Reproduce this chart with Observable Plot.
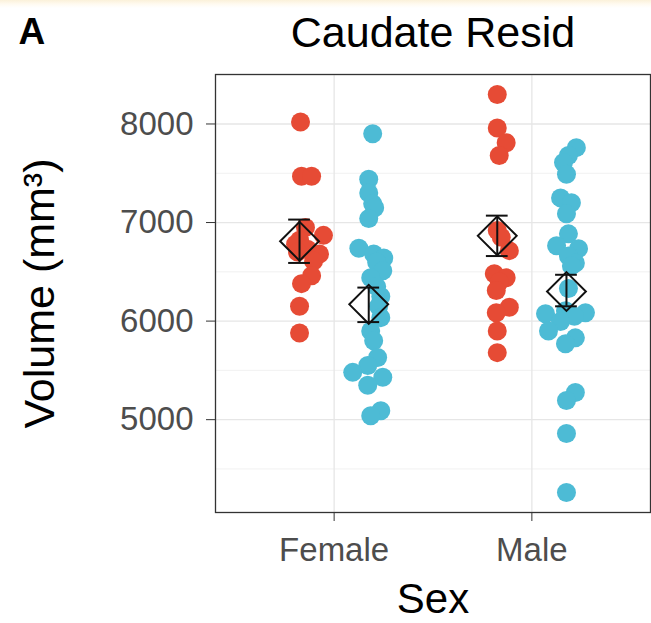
<!DOCTYPE html>
<html>
<head>
<meta charset="utf-8">
<script src="https://cdn.jsdelivr.net/npm/d3@7"></script>
<script src="https://cdn.jsdelivr.net/npm/@observablehq/plot@0.6"></script>
<style>
  html, body { margin: 0; padding: 0; background: #ffffff; }
  #wrap { position: relative; width: 651px; height: 623px; overflow: hidden;
          background: linear-gradient(#fbf1da 0px, #fffaf0 4px, #ffffff 8px); }
  #wrap svg { display: block; }
</style>
</head>
<body>
<div id="wrap"></div>
<script>
// ---- data ----
const sexes = ["Female", "Male"];
const groupNames = ["Group 1", "Group 2"];           // red, blue
const groupColors = ["#E64B35", "#4DBBD5"];

const femaleRed = [8020, 7470, 7470, 6950, 6870, 6820, 6780, 6730, 6700, 6680, 6610, 6460, 6380, 6150, 5880];
const femaleRedJitter = [0.005, 0.010, 0.061, 0.030, 0.121, 0, -0.020, 0.040, -0.010, 0.101, 0.071, 0.061, 0.010, 0, 0];

const femaleBlue = [7900, 7440, 7300, 7190, 7150, 7040, 6740, 6680, 6640, 6600, 6510, 6440, 6350, 6250, 6150, 6035, 5900, 5800, 5630, 5550, 5480, 5430, 5350, 5090, 5040];
const femaleBlueJitter = [0.020, 0, 0, 0.020, 0.030, 0, -0.050, 0.025, 0.076, 0.040, 0.071, 0.010, 0.040, 0.061, 0.050, 0.061, 0.010, 0.025, 0.045, -0.005, -0.081, 0.071, -0.005, 0.061, 0.010];

const maleRed = [8300, 7960, 7810, 7680, 6920, 6850, 6715, 6480, 6440, 6400, 6310, 6140, 6085, 5900, 5680];
const maleRedJitter = [0, 0, 0.045, 0.010, 0, 0.020, 0.061, -0.015, 0.045, 0.010, -0.005, 0.061, -0.005, 0, 0];

const maleBlue = [7760, 7680, 7610, 7490, 7250, 7200, 7090, 6885, 6765, 6735, 6660, 6590, 6560, 6330, 6105, 6085, 6075, 6050, 5995, 5900, 5830, 5770, 5275, 5195, 4860, 4260];
const maleBlueJitter = [0.050, 0.010, -0.015, 0, -0.030, 0.025, 0, 0.010, -0.050, 0.061, 0.010, 0.045, 0.025, 0.010, -0.005, 0.096, -0.106, 0.040, -0.030, -0.091, 0.045, -0.005, 0.045, 0, 0, 0];

// summary: mean and error-bar ends, order: Female-red, Female-blue, Male-red, Male-blue
const meanValues = [6810, 6170, 6865, 6300];
const errLow     = [6590, 5990, 6660, 6150];
const errHigh    = [7030, 6340, 7070, 6470];

const yTicks = [5000, 6000, 7000, 8000];
const yMinorTicks = [4500, 5500, 6500, 7500, 8500];

// ---- build tables ----
const dodge = [-0.175, 0.175];
const sets = [
  {sex: 0, grp: 0, v: femaleRed, j: femaleRedJitter},
  {sex: 0, grp: 1, v: femaleBlue, j: femaleBlueJitter},
  {sex: 1, grp: 0, v: maleRed, j: maleRedJitter},
  {sex: 1, grp: 1, v: maleBlue, j: maleBlueJitter}
];
const points = sets.flatMap(s => s.v.map((v, i) => ({
  sex: sexes[s.sex], group: groupNames[s.grp],
  x: s.sex + 1 + dodge[s.grp] + s.j[i], y: v
})));
const summary = sets.map((s, k) => ({
  sex: sexes[s.sex], group: groupNames[s.grp],
  x: s.sex + 1 + dodge[s.grp], mean: meanValues[k], lo: errLow[k], hi: errHigh[k]
}));
const capHalf = 0.055;

const font = "'Liberation Sans', Arial, Helvetica, sans-serif";

const chart = Plot.plot({
  width: 651,
  height: 623,
  marginLeft: 215,
  marginRight: 1,
  marginTop: 74,
  marginBottom: 111,
  style: {background: "transparent", fontFamily: font, overflow: "visible"},
  x: {type: "linear", domain: [0.4, 2.6]},
  y: {domain: [4058, 8502]},
  color: {domain: groupNames, range: groupColors},
  marks: [
    Plot.gridY(yMinorTicks, {stroke: "#ebebeb", strokeOpacity: 1, strokeWidth: 0.7}),
    Plot.gridY(yTicks, {stroke: "#e6e6e6", strokeOpacity: 1, strokeWidth: 1.3}),
    Plot.gridX([1, 2], {stroke: "#e6e6e6", strokeOpacity: 1, strokeWidth: 1.3}),
    Plot.dot(points, {x: "x", y: "y", fill: "group", r: 9.5}),
    Plot.ruleX(summary, {x: "x", y1: "lo", y2: "hi", stroke: "#111", strokeWidth: 2}),
    Plot.ruleY(summary, {x1: d => d.x - capHalf, x2: d => d.x + capHalf, y: "lo", stroke: "#111", strokeWidth: 2}),
    Plot.ruleY(summary, {x1: d => d.x - capHalf, x2: d => d.x + capHalf, y: "hi", stroke: "#111", strokeWidth: 2}),
    Plot.dot(summary, {x: "x", y: "mean", symbol: "diamond2", r: 17.5, stroke: "#111", strokeWidth: 2, fill: "none"}),
    Plot.frame({stroke: "#333333", strokeWidth: 1.3}),
    Plot.axisY(yTicks, {tickSize: 9, tickPadding: 13, fontSize: 33, stroke: "#333333", fill: "#4d4d4d", label: null, tickFormat: d => String(d)}),
    Plot.axisX([1, 2], {tickSize: 9, tickPadding: 16, fontSize: 33, stroke: "#333333", fill: "#4d4d4d", label: null, tickFormat: d => sexes[d - 1]}),
    Plot.text(["Caudate Resid"], {frameAnchor: "top", dy: -28, lineAnchor: "bottom", fontSize: 43, fill: "#000"}),
    Plot.text(["A"], {frameAnchor: "top-left", dx: -197, dy: -31, lineAnchor: "bottom", textAnchor: "start", fontSize: 37, fontWeight: "bold", fill: "#000"}),
    Plot.text(["Sex"], {frameAnchor: "bottom", dy: 100, lineAnchor: "bottom", fontSize: 42, fill: "#000"}),
    Plot.text(["Volume (mm³)"], {frameAnchor: "left", dx: -162, rotate: -90, lineAnchor: "bottom", textAnchor: "middle", fontSize: 43, fill: "#000"})
  ]
});
document.getElementById("wrap").appendChild(chart);
</script>
</body>
</html>
